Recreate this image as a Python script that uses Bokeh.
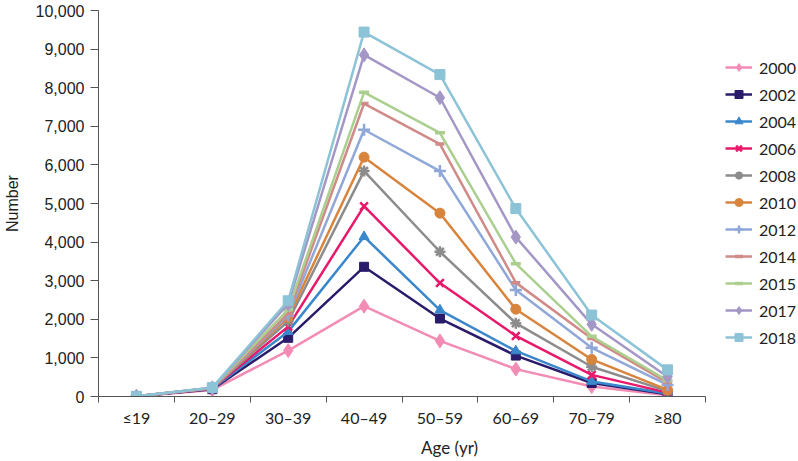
from bokeh.plotting import figure
from bokeh.models import (Range1d, FixedTicker, NumeralTickFormatter, Legend, LegendItem)
from bokeh.embed import file_html
from bokeh.resources import INLINE

ages = ["≤19", "20–29", "30–39", "40–49", "50–59", "60–69", "70–79", "≥80"]
years = ["2000", "2002", "2004", "2006", "2008", "2010", "2012", "2014", "2015", "2017", "2018"]

y2000 = [5, 170, 1190, 2340, 1440, 710, 260, 30]
y2002 = [5, 190, 1520, 3360, 2020, 1060, 350, 60]
y2004 = [5, 200, 1680, 4140, 2240, 1180, 390, 80]
y2006 = [5, 210, 1810, 4930, 2940, 1570, 560, 100]
y2008 = [5, 215, 1950, 5840, 3750, 1900, 770, 140]
y2010 = [5, 215, 2050, 6200, 4750, 2260, 960, 170]
y2012 = [5, 220, 2100, 6910, 5840, 2760, 1260, 300]
y2014 = [5, 220, 2150, 7590, 6540, 2950, 1500, 360]
y2015 = [5, 225, 2250, 7880, 6830, 3440, 1560, 410]
y2017 = [5, 225, 2400, 8850, 7740, 4130, 1870, 510]
y2018 = [5, 230, 2480, 9440, 8340, 4870, 2110, 690]
series = [y2000, y2002, y2004, y2006, y2008, y2010, y2012, y2014, y2015, y2017, y2018]

colors = ["#F28CB4", "#2B1B6B", "#3A87CC", "#E8186A", "#8C8C8C", "#D8843C",
          "#8FA8D8", "#D08A88", "#ABCF8E", "#A497C6", "#8CC3D6"]
markers = ["diamond", "square", "triangle", "x", "asterisk", "circle",
           "cross", "dash", "dash", "diamond", "square"]
msizes = [14, 9, 10, 11, 11, 10, 12, 9, 10, 14, 10]

x = [i + 0.5 for i in range(len(ages))]
n = len(ages)

# frame spans plot area + legend area; the x axis is bounded to the data part
FW = 702
DATA_W = 607
p = figure(frame_width=FW, frame_height=386, output_backend="svg", toolbar_location=None,
           x_range=Range1d(0, n * FW / DATA_W), y_range=Range1d(0, 10000),
           min_border_left=96, min_border_right=0, min_border_top=10, min_border_bottom=0)
p.outline_line_color = None
p.grid.grid_line_color = None
p.background_fill_color = "white"

items = []
for yr, ys, c, m, s in zip(years, series, colors, markers, msizes):
    r1 = p.line(x, ys, line_color=c, line_width=2.5)
    if m in ("x", "asterisk", "cross", "dash"):
        r2 = p.scatter(x, ys, marker=m, size=s, line_color=c, line_width=2.5 if m != "dash" else 3.5)
    else:
        r2 = p.scatter(x, ys, marker=m, size=s, fill_color=c, line_color=c)
    items.append(LegendItem(label=yr, renderers=[r1, r2]))

xa = p.xaxis[0]
xa.bounds = (0, n)
xa.ticker = FixedTicker(ticks=x, minor_ticks=list(range(n + 1)))
xa.major_label_overrides = {xi: a for xi, a in zip(x, ages)}
xa.major_tick_out = 0
xa.major_tick_in = 0
xa.minor_tick_out = 6
xa.minor_tick_in = 0
xa.minor_tick_line_color = "#555555"
xa.axis_line_color = "#555555"
xa.major_label_standoff = 5
xa.major_label_text_font = "Lato"
xa.major_label_text_font_size = "16px"
xa.major_label_text_color = "#222222"
xa.axis_label = "Age (yr)"
xa.axis_label_text_font = "Lato"
xa.axis_label_text_font_style = "normal"
xa.axis_label_text_font_size = "17px"
xa.axis_label_text_color = "#222222"
xa.axis_label_standoff = 7

ya = p.yaxis[0]
ya.ticker = FixedTicker(ticks=list(range(0, 10001, 1000)), minor_ticks=[])
ya.formatter = NumeralTickFormatter(format="0,0")
ya.major_tick_out = 8
ya.major_tick_in = 0
ya.major_tick_line_color = "#555555"
ya.axis_line_color = "#555555"
ya.major_label_standoff = 6
ya.major_label_text_font = "Liberation Sans"
ya.major_label_text_font_size = "16px"
ya.major_label_text_color = "#222222"
ya.axis_label = "Number"
ya.axis_label_text_font = "Liberation Sans"
ya.axis_label_text_font_style = "normal"
ya.axis_label_text_font_size = "16px"
ya.axis_label_text_color = "#222222"
ya.axis_label_standoff = 12

legend = Legend(items=items, location=(627, 49), glyph_width=27, glyph_height=20,
                label_height=20, label_standoff=7, spacing=7, padding=0, margin=0,
                label_text_font="Lato", label_text_font_size="16px", label_text_color="#222222",
                background_fill_alpha=0, border_line_alpha=0)
p.add_layout(legend, "center")

open("out.html", "w").write(file_html(p, INLINE))
